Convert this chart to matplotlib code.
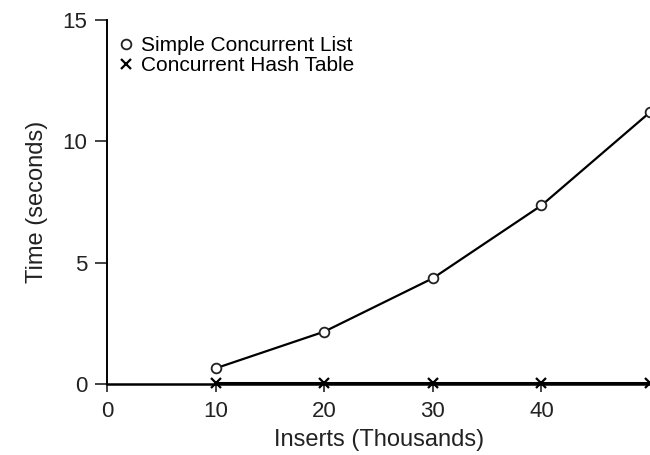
import matplotlib
matplotlib.use('Agg')
import matplotlib.pyplot as plt

plt.rcParams['font.family'] = ['Liberation Sans', 'DejaVu Sans']

# inserts in thousands
inserts = [10, 20, 30, 40, 50]
list_time = [0.65, 2.16, 4.36, 7.36, 11.2]
hash_time = [0.03, 0.03, 0.03, 0.03, 0.03]

fig = plt.figure(figsize=(6.5, 4.55), dpi=100)
ax = fig.add_axes([0.165, 0.156, 0.835, 0.8])

ax.plot(inserts, list_time, 'k-', marker='o', mfc='white', mec='#222222',
        ms=7, mew=1.3, lw=1.6, label='Simple Concurrent List', clip_on=True)
ax.plot(inserts, hash_time, 'k-', marker='x', ms=6.5, mew=1.6, lw=2.2,
        label='Concurrent Hash Table', clip_on=False)

ax.set_xlim(0, 50)
ax.set_ylim(0, 15)
ax.set_xticks([0, 10, 20, 30, 40])
ax.set_yticks([0, 5, 10, 15])

for s in ['top', 'right']:
    ax.spines[s].set_visible(False)
ax.spines['left'].set_linewidth(1.4)
ax.spines['bottom'].set_linewidth(1.8)
ax.tick_params(direction='out', width=1.2, labelsize=16, colors='#222222')
ax.tick_params(axis='x', length=6, pad=6)
ax.tick_params(axis='y', length=8.5, pad=6)

ax.set_xlabel('Inserts (Thousands)', fontsize=17, color='#222222', labelpad=5)
ax.set_ylabel('Time (seconds)', fontsize=17, color='#222222', labelpad=10)

ax.legend(loc='upper left', bbox_to_anchor=(0.025, 0.955), frameon=False,
          fontsize=15, handlelength=0.5, handletextpad=0.45, labelspacing=0.05,
          borderaxespad=0.0, borderpad=0.0)
leg = ax.get_legend()
for h in leg.legend_handles:
    h.set_linestyle('None')

fig.savefig('out.png', dpi=100)
